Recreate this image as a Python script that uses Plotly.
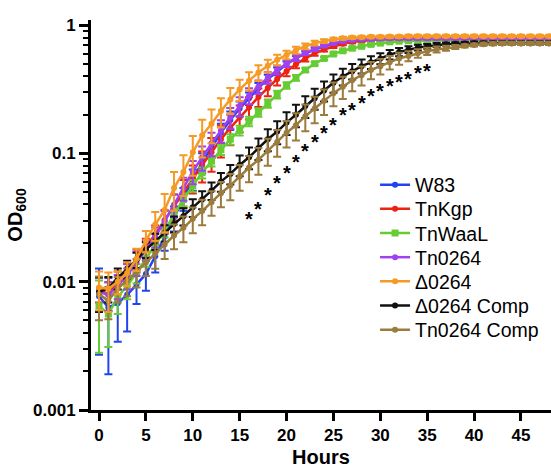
import math
import plotly.graph_objects as go

hours = list(range(0, 49))

w83 = [0.0077, 0.0063, 0.0068, 0.0079, 0.0095, 0.0115, 0.0158, 0.0224, 0.0316, 0.0447,
       0.0631, 0.0851, 0.112, 0.145, 0.182, 0.224, 0.269, 0.324, 0.380, 0.437,
       0.496, 0.550, 0.603, 0.646, 0.684, 0.716, 0.741, 0.759, 0.773, 0.780,
       0.785] + [0.79] * 18
w83_sd = [0.005, 0.0044, 0.0034, 0.0038, 0.0028, 0.003, 0.004, 0.005, 0.007, 0.009,
          0.012, 0.015, 0.02, 0.025, 0.03, 0.03, 0.03, 0.03, 0.03, 0.03,
          0.025, 0.025] + [0.02] * 27

tnkgp = [0.0089, 0.0079, 0.0100, 0.0120, 0.0148, 0.0186, 0.0234, 0.0302, 0.0389, 0.0501,
         0.0646, 0.0813, 0.102, 0.129, 0.158, 0.191, 0.229, 0.275, 0.324, 0.380,
         0.437, 0.496, 0.550, 0.603, 0.646, 0.684, 0.716, 0.741, 0.759, 0.767,
         0.775] + [0.78] * 18
tnkgp_sd = [0.002, 0.002, 0.002, 0.002, 0.003, 0.003, 0.004, 0.006, 0.009, 0.012,
            0.016, 0.022, 0.03, 0.036, 0.042, 0.045, 0.045, 0.045, 0.045, 0.042,
            0.038, 0.034, 0.03, 0.025, 0.022] + [0.02] * 24

tnwaal = [0.0065, 0.0056, 0.0076, 0.0093, 0.0117, 0.0151, 0.0191, 0.0251, 0.0331, 0.0437,
          0.0562, 0.0708, 0.0871, 0.107, 0.129, 0.151, 0.178, 0.209, 0.245, 0.288,
          0.339, 0.389, 0.447, 0.501, 0.550, 0.596, 0.631, 0.661, 0.684, 0.708,
          0.724, 0.741, 0.750, 0.755] + [0.76] * 15
tnwaal_sd = [0.0037, 0.0025, 0.002, 0.002, 0.002, 0.002, 0.002, 0.003, 0.004, 0.005,
             0.006, 0.007, 0.008, 0.01, 0.012, 0.013, 0.015, 0.016, 0.018, 0.02,
             0.02, 0.02] + [0.015] * 27

tn0264 = [0.0083, 0.0079, 0.0093, 0.0112, 0.0141, 0.0178, 0.0224, 0.0295, 0.0398, 0.0537,
          0.0724, 0.0933, 0.120, 0.151, 0.191, 0.234, 0.282, 0.331, 0.389, 0.447,
          0.501, 0.556, 0.610, 0.653, 0.692, 0.724, 0.750, 0.767, 0.776, 0.780,
          0.785] + [0.79] * 18
tn0264_sd = [0.0025, 0.002, 0.002, 0.0025, 0.003, 0.003, 0.004, 0.006, 0.008, 0.011,
             0.015, 0.02, 0.025, 0.03, 0.035, 0.04, 0.04, 0.04, 0.04, 0.035,
             0.03, 0.03, 0.025, 0.025] + [0.02] * 25

d0264 = [0.0090, 0.0088, 0.0100, 0.0117, 0.0151, 0.0209, 0.0279, 0.0363, 0.0537, 0.0716,
         0.102, 0.138, 0.170, 0.214, 0.263, 0.316, 0.369, 0.427, 0.482, 0.537,
         0.586, 0.638, 0.684, 0.724, 0.750, 0.776, 0.790, 0.800, 0.805, 0.81,
         0.81, 0.815, 0.815] + [0.82] * 16
d0264_sd = [0.003, 0.003, 0.002, 0.0025, 0.003, 0.004, 0.007, 0.012, 0.018, 0.025,
            0.035, 0.045, 0.05, 0.055, 0.06, 0.06, 0.06, 0.06, 0.055, 0.05,
            0.045, 0.04, 0.035, 0.03, 0.025, 0.022] + [0.02] * 23

d0264_comp = [0.0083, 0.0089, 0.0107, 0.0126, 0.0148, 0.0178, 0.0207, 0.0240, 0.0282, 0.0324,
              0.0380, 0.0437, 0.0513, 0.0603, 0.0692, 0.0813, 0.0933, 0.110, 0.129, 0.148,
              0.174, 0.200, 0.234, 0.269, 0.309, 0.355, 0.398, 0.437, 0.479, 0.513,
              0.550, 0.589, 0.617, 0.646, 0.668, 0.684, 0.700, 0.710, 0.716, 0.72] + [0.724] * 9
d0264_comp_sd = [0.0025, 0.002, 0.002, 0.002, 0.002, 0.0025, 0.003, 0.0035, 0.004, 0.005,
                 0.006, 0.007, 0.008, 0.01, 0.012, 0.015, 0.018, 0.021, 0.025, 0.03,
                 0.035, 0.04, 0.045, 0.05, 0.055, 0.058, 0.06, 0.06, 0.06, 0.058,
                 0.055, 0.05, 0.045, 0.04, 0.035, 0.03, 0.025] + [0.02] * 12

tn0264_comp = [0.0080, 0.0071, 0.0089, 0.0102, 0.0120, 0.0141, 0.0166, 0.0195, 0.0229, 0.0263,
               0.0309, 0.0355, 0.0417, 0.0490, 0.0562, 0.0661, 0.0776, 0.0891, 0.105, 0.123,
               0.145, 0.166, 0.195, 0.224, 0.257, 0.295, 0.331, 0.372, 0.407, 0.447,
               0.479, 0.513, 0.550, 0.575, 0.603, 0.625, 0.646, 0.661, 0.676, 0.69,
               0.70, 0.71, 0.716] + [0.72] * 6
tn0264_comp_sd = [0.003, 0.002, 0.002, 0.0025, 0.003, 0.003, 0.004, 0.0045, 0.005, 0.006,
                  0.007, 0.008, 0.009, 0.011, 0.013, 0.015, 0.018, 0.021, 0.025, 0.029,
                  0.034, 0.04, 0.046, 0.052, 0.058, 0.062, 0.065, 0.067, 0.068, 0.068,
                  0.066, 0.062, 0.058, 0.052, 0.046, 0.04, 0.035, 0.03, 0.025] + [0.02] * 10

star_hours = list(range(16, 36))
star_od = [0.0345, 0.0413, 0.0530, 0.0656, 0.0783, 0.0953, 0.116, 0.136, 0.160, 0.184,
           0.220, 0.245, 0.277, 0.314, 0.344, 0.376, 0.403, 0.426, 0.473, 0.491]

ytick_vals = [0.001, 0.01, 0.1, 1]
ytick_text = ["0.001", "0.01", "0.1", "1"]

# (name, values, sd, color, symbol, legend slot) in drawing order
series = [
    ("W83", w83, w83_sd, "#2244ee", "circle", 0),
    ("TnKgp", tnkgp, tnkgp_sd, "#ee2211", "circle", 1),
    ("TnWaaL", tnwaal, tnwaal_sd, "#66cc33", "square", 2),
    ("Tn0264", tn0264, tn0264_sd, "#a040f0", "circle", 3),
    ("\u03940264 Comp", d0264_comp, d0264_comp_sd, "#111111", "circle", 5),
    ("Tn0264 Comp", tn0264_comp, tn0264_comp_sd, "#9b7b3e", "circle", 6),
    ("\u03940264", d0264, d0264_sd, "#f49a25", "circle", 4),
]

FONT = "Liberation Sans, Arial, sans-serif"
LEG_X = 0.6175
LEG_TOP = 0.577
LEG_STEP = 0.062

fig = go.Figure()
for name, vals, sd, color, sym, slot in series:
    fig.add_trace(go.Scatter(
        x=hours, y=vals, name=name, mode="lines+markers",
        line=dict(color=color, width=2.5),
        marker=dict(color=color, size=6 if sym == "circle" else 7, symbol=sym),
        error_y=dict(type="data", array=sd, color=color, thickness=2, width=4),
        legend="legend" if slot == 0 else "legend%d" % (slot + 1),
    ))

for h, od in zip(star_hours, star_od):
    fig.add_annotation(
        x=h, y=math.log10(od), yref="y", xref="x", text="*", showarrow=False,
        font=dict(family=FONT, size=20, color="black", weight="bold"),
        yshift=-6,
    )

legends = {}
for slot in range(7):
    key = "legend" if slot == 0 else "legend%d" % (slot + 1)
    legends[key] = dict(
        x=LEG_X, y=LEG_TOP - slot * LEG_STEP, xanchor="left", yanchor="middle",
        font=dict(family=FONT, size=19.5, color="black"),
        itemwidth=30, bgcolor="rgba(0,0,0,0)", borderwidth=0,
    )

fig.update_layout(
    width=551, height=468,
    margin=dict(l=91, r=0, t=20, b=58),
    paper_bgcolor="white", plot_bgcolor="white",
    font=dict(family=FONT, color="black"),
    showlegend=True,
    **legends,
)
fig.update_xaxes(
    range=[-0.853, 48.2], tick0=0, dtick=5, automargin=False,
    showline=True, linecolor="black", linewidth=3,
    ticks="outside", ticklen=8, tickwidth=3, tickcolor="black",
    showgrid=False, zeroline=False,
    tickfont=dict(family=FONT, size=17, weight="bold"),
    title=dict(text="Hours", font=dict(family=FONT, size=20, weight="bold"), standoff=6),
)
fig.update_yaxes(
    type="log", range=[-3, 0.04], automargin=False,
    tickvals=ytick_vals, ticktext=ytick_text,
    showline=True, linecolor="black", linewidth=3,
    ticks="outside", ticklen=9, tickwidth=3, tickcolor="black",
    minor=dict(ticks="outside", ticklen=5, tickwidth=2, tickcolor="black", dtick="D1", showgrid=False),
    showgrid=False, zeroline=False,
    tickfont=dict(family=FONT, size=17, weight="bold"),
    title=dict(text="OD<sub>600</sub>", font=dict(family=FONT, size=20, weight="bold"), standoff=6),
)

fig.write_html("out.html", config={"displayModeBar": False},
               post_script="document.body.style.margin='0px';")
